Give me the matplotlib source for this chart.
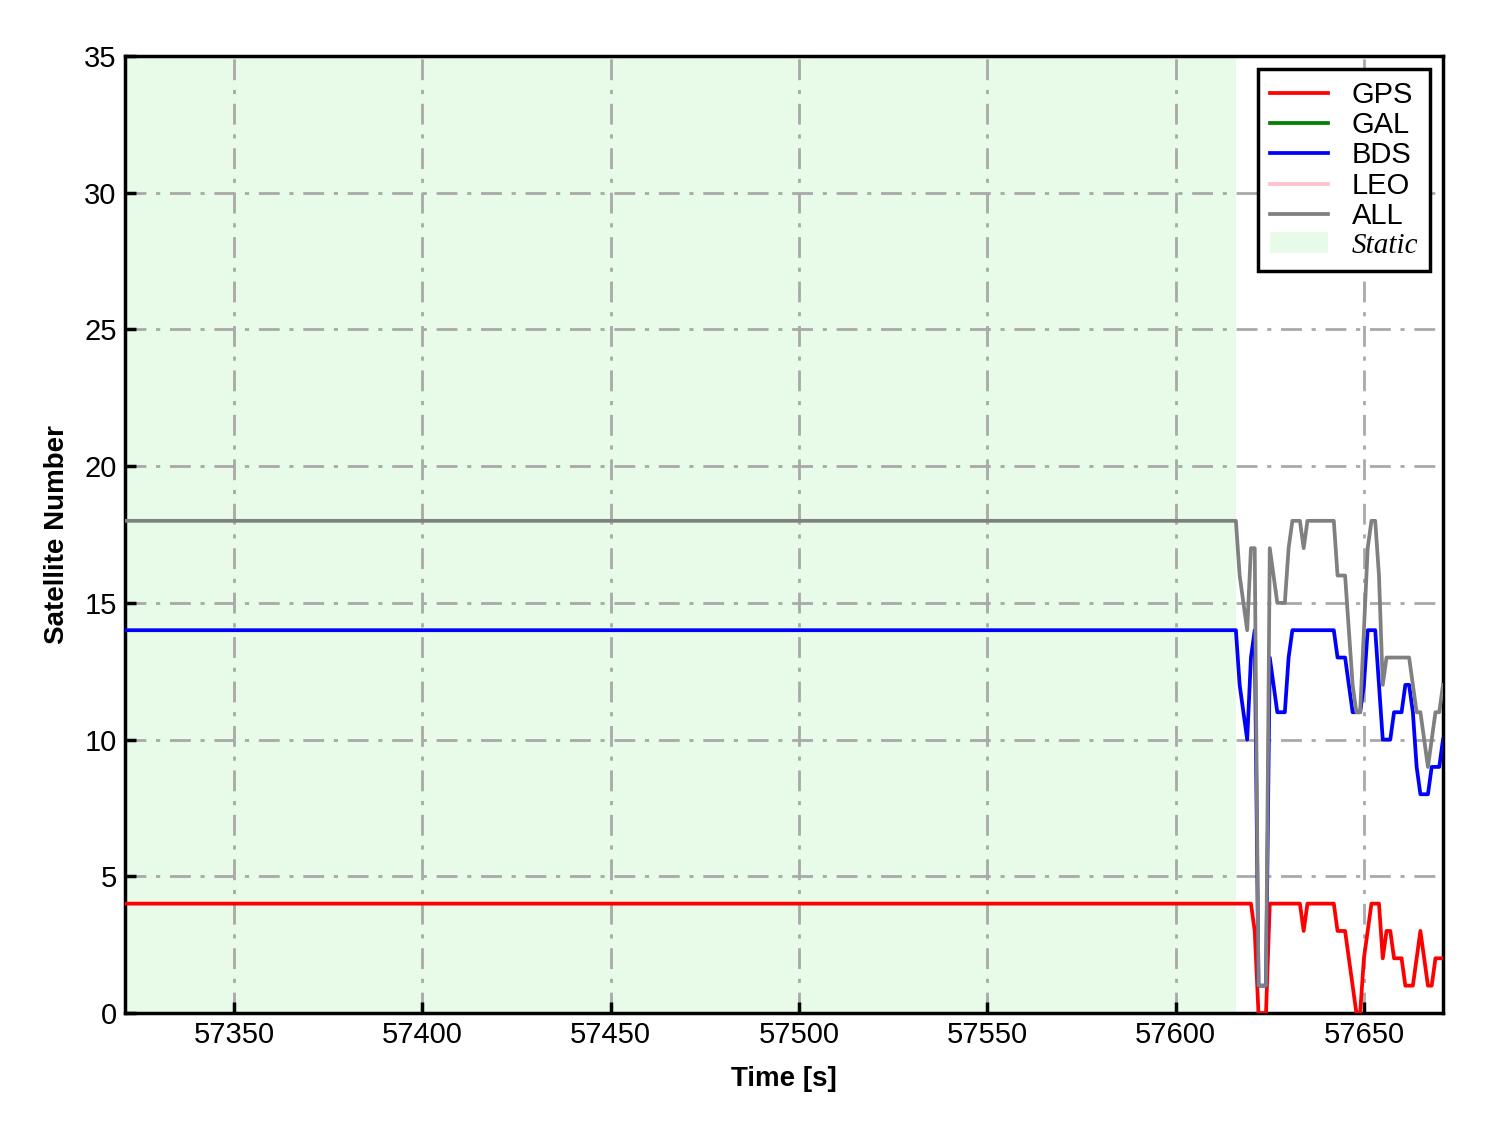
import matplotlib
matplotlib.use("Agg")
import matplotlib.pyplot as plt
from matplotlib.patches import Patch

plt.rcParams['font.family'] = ['Liberation Sans', 'DejaVu Sans']

# ---- data (1 Hz epochs) ----
t_start = 57321
t_static_end = 57616
n_static = 295  # epochs 57321 .. 57615

gps_static = [4] * n_static
bds_static = [14] * n_static
all_static = [18] * n_static

# epochs 57616 .. 57671
gps_dyn = [4, 4, 4, 4, 4, 3, 0, 0, 0, 4, 4, 4, 4, 4, 4, 4, 4, 4, 3, 4,
           4, 4, 4, 4, 4, 4, 4, 3, 3, 3, 2, 1, 0, 0, 2, 3, 4, 4, 4, 2,
           3, 3, 2, 2, 2, 1, 1, 1, 2, 3, 2, 1, 1, 2, 2, 2]
bds_dyn = [14, 12, 11, 10, 13, 14, 1, 1, 1, 13, 12, 11, 11, 11, 13, 14, 14, 14, 14, 14,
           14, 14, 14, 14, 14, 14, 14, 13, 13, 13, 12, 11, 11, 11, 12, 14, 14, 14, 12, 10,
           10, 10, 11, 11, 11, 12, 12, 11, 9, 8, 8, 8, 9, 9, 9, 10]
all_dyn = [18, 16, 15, 14, 17, 17, 1, 1, 1, 17, 16, 15, 15, 15, 17, 18, 18, 18, 17, 18,
           18, 18, 18, 18, 18, 18, 18, 16, 16, 16, 14, 12, 11, 11, 14, 17, 18, 18, 16, 12,
           13, 13, 13, 13, 13, 13, 13, 12, 11, 11, 10, 9, 10, 11, 11, 12]

gps = gps_static + gps_dyn
bds = bds_static + bds_dyn
all_sat = all_static + all_dyn
gal = []
leo = []
time = list(range(t_start, t_start + len(gps)))

x_ticks = [57350, 57400, 57450, 57500, 57550, 57600, 57650]
y_ticks = [0, 5, 10, 15, 20, 25, 30, 35]

# ---- plot ----
fig = plt.figure(figsize=(14.88, 11.33), dpi=100)
ax = fig.add_axes([125/1488, 1 - 1013/1133, (1443-125)/1488, (1013-56)/1133])

ax.axvspan(time[0], t_static_end, color='lightgreen', alpha=0.2, lw=0, zorder=0)

lw = 2.7
ax.plot(time, gps, color='red', lw=lw, label='GPS', zorder=3)
ax.plot(gal, gal, color='green', lw=lw, label='GAL')
ax.plot(time, bds, color='blue', lw=lw, label='BDS', zorder=3)
ax.plot(leo, leo, color='pink', lw=lw, label='LEO')
ax.plot(time, all_sat, color='gray', lw=lw, label='ALL', zorder=4)

ax.set_xlim(time[0], time[-1])
ax.set_ylim(0, 35)
ax.set_xticks(x_ticks)
ax.set_yticks(y_ticks)
ax.grid(True, color='#a9a9a9', linestyle='-.', linewidth=2.0, dashes=(7.5, 3.5, 1.5, 3.5))

ax.tick_params(direction='in', length=8, width=2.5, labelsize=21, pad=6,
               color='black')
for s in ax.spines.values():
    s.set_linewidth(2.5)
    s.set_color('black')

ax.set_xlabel('Time [s]', fontsize=20, fontweight='bold', labelpad=12)
ax.set_ylabel('Satellite Number', fontsize=20, fontweight='bold', labelpad=10)

handles, labels = ax.get_legend_handles_labels()
static_patch = Patch(facecolor='lightgreen', alpha=0.2, edgecolor='none')
handles.append(static_patch)
labels.append('Static')
leg = ax.legend(handles, labels, loc='upper right', fontsize=21,
                frameon=True, fancybox=False, edgecolor='black',
                framealpha=1, labelspacing=0.08, handlelength=2.0,
                borderpad=0.4, borderaxespad=0.45, handletextpad=0.8)
leg.get_frame().set_linewidth(2.5)
for txt in leg.get_texts():
    if txt.get_text() == 'Static':
        txt.set_fontfamily(['Liberation Serif', 'DejaVu Serif'])
        txt.set_fontstyle('italic')

fig.savefig('out.png', dpi=100)
